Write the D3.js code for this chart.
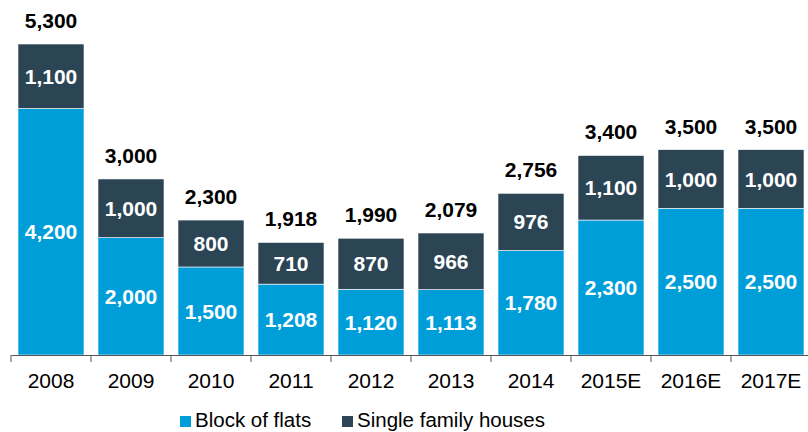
<!DOCTYPE html>
<html><head><meta charset="utf-8">
<script src="https://cdn.jsdelivr.net/npm/d3@7"></script>
<style>body{margin:0;background:#fff}svg{display:block;font-family:"Liberation Sans",Arial,sans-serif}</style>
</head><body><svg id="c" width="808" height="432"></svg>
<script>
const categories = ["2008","2009","2010","2011","2012","2013","2014","2015E","2016E","2017E"];
const blockOfFlats = [4200,2000,1500,1208,1120,1113,1780,2300,2500,2500];
const singleFamily = [1100,1000,800,710,870,966,976,1100,1000,1000];
const totals = [5300,3000,2300,1918,1990,2079,2756,3400,3500,3500];
const seriesNames = ["Block of flats","Single family houses"];
const colors = ["#009ED9","#2C4555"];

const svg = d3.select("#c");
const x = d3.scaleBand().domain(categories).range([11,811]).paddingInner(0.175).paddingOuter(0.0875);
const y = d3.scaleLinear().domain([0,5300]).range([355,44]);
const fmt = d3.format(",");

const data = categories.map((c,i)=>({cat:c, flats:blockOfFlats[i], single:singleFamily[i], total:totals[i]}));
const stack = d3.stack().keys(["flats","single"])(data);

const g = svg.append("g");
stack.forEach((layer,li)=>{
  g.selectAll(null).data(layer).join("rect")
    .attr("x",d=>x(d.data.cat)).attr("width",x.bandwidth())
    .attr("y",d=>y(d[1])).attr("height",d=>y(d[0])-y(d[1]))
    .attr("fill",colors[li]).attr("stroke","#fff").attr("stroke-width",0.6);
  g.selectAll(null).data(layer).join("text")
    .attr("x",d=>x(d.data.cat)+x.bandwidth()/2)
    .attr("y",d=>(y(d[0])+y(d[1]))/2)
    .attr("dy","0.36em").attr("text-anchor","middle")
    .attr("fill","#fff").attr("font-weight","bold").attr("font-size",21)
    .text(d=>fmt(d[1]-d[0]));
});
g.selectAll(null).data(data).join("text")
  .attr("x",d=>x(d.cat)+x.bandwidth()/2).attr("y",d=>y(d.total)-16)
  .attr("text-anchor","middle").attr("font-weight","bold").attr("font-size",21).attr("fill","#000")
  .text(d=>fmt(d.total));

const ax = svg.append("g").attr("transform","translate(0,355)")
  .call(d3.axisBottom(x).tickSize(0).tickPadding(18));
ax.select(".domain").attr("stroke","#555");
ax.selectAll("text").attr("font-size",21).attr("fill","#000").attr("font-family","Liberation Sans, Arial, sans-serif");
const bounds = categories.map(c=>x(c)-x.step()*x.paddingInner()/2).concat([811]);
ax.selectAll(".bt").data(bounds).join("line").attr("class","bt")
  .attr("x1",d=>d).attr("x2",d=>d).attr("y1",0).attr("y2",7).attr("stroke","#555");

const lg = svg.append("g");
const items = [{n:seriesNames[0],c:colors[0],x:180},{n:seriesNames[1],c:colors[1],x:342}];
items.forEach(it=>{
  lg.append("rect").attr("x",it.x).attr("y",416).attr("width",11).attr("height",11).attr("fill",it.c);
  lg.append("text").attr("x",it.x+15).attr("y",427).attr("font-size",20.5).attr("fill","#000").text(it.n);
});
</script></body></html>
